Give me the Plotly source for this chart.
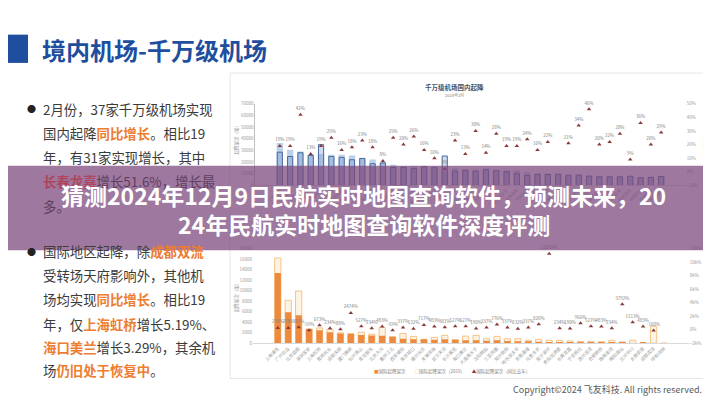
import plotly.graph_objects as go

W, H = 711, 400


def px(x):
    return x / W


def py(y):
    return 1 - y / H


# ---------------- data ----------------
top_cats = ["广州白云", "深圳宝安", "重庆江北", "昆明长水", "成都天府", "上海虹桥", "西安咸阳",
            "杭州萧山", "北京大兴", "北京首都", "成都双流", "长沙黄花", "海口美兰", "三亚凤凰",
            "贵阳龙洞堡", "南京禄口", "上海浦东", "武汉天河", "郑州新郑", "厦门高崎", "乌鲁木齐",
            "青岛胶东", "哈尔滨太平", "天津滨海", "济南遥墙", "沈阳桃仙", "南宁吴圩", "福州长乐",
            "大连周水子", "兰州中川", "长春龙嘉", "温州龙湾", "宁波栎社", "太原武宿", "呼和浩特",
            "合肥新桥", "珠海金湾", "揭阳潮汕"]
dom_2019 = [36400, 30500, 29100, 26300, 26900, 26300, 26300, 25700, 23700, 22300, 20100, 17800,
            16700, 16700, 15800, 15000, 13000, 14400, 13600, 13600, 14400, 13000, 13000, 12700,
            11000, 10500, 10500, 10200, 9500, 9300, 8500, 8000, 7800, 7600, 8000, 7000, 7300, 8200]
dom_2024 = [28500, 24800, 28000, 25700, 35000, 24800, 24000, 22000, 23000, 18600, 19200, 15300,
            15500, 14400, 16100, 15500, 25200, 12100, 13000, 12100, 13300, 12700, 11600, 9900,
            8500, 9300, 9300, 9500, 8200, 8700, 7800, 7300, 7300, 7300, 7800, 6500, 6800, 7600]
dom_growth = [19, 19, 42, 13, 19, 25, 16, 18, 23, 18, 8, 25, 20, 26, 16, 10, 2, 23, 13, 30, 14, 28,
              19, 19, 24, 16, 22, None, 21, 34, 46, 20, 22, 28, 9, 36, 20, 29]

intl_cats = ["上海浦东", "广州白云", "北京首都", "深圳宝安", "上海虹桥", "昆明长水", "成都天府",
             "厦门高崎", "杭州萧山", "青岛胶东", "北京大兴", "重庆江北", "西安咸阳", "南京禄口",
             "福州长乐", "天津滨海", "武汉天河", "长沙黄花", "海口美兰", "大连周水子", "沈阳桃仙",
             "三亚凤凰", "郑州新郑", "哈尔滨太平", "济南遥墙", "乌鲁木齐", "南宁吴圩", "贵阳龙洞堡",
             "长春龙嘉", "宁波栎社", "温州龙湾", "合肥新桥", "珠海金湾", "揭阳潮汕", "兰州中川",
             "太原武宿", "成都双流", "呼和浩特"]
intl_2024 = [13400, 5900, 5350, 2730, 2490, 2110, 1870, 1800, 1550, 1500, 1420, 1230, 860, 750,
             750, 670, 750, 670, 560, 560, 490, 560, 430, 370, 370, 300, 240, 240, 240, 240, 190,
             190, 190, 240, 60, 190, 0, 20]
intl_2019 = [16260, 8200, 9960, 2730, 2920, 2620, 1980, 1800, 2110, 1740, 3050, 1230, 1870, 1310,
             750, 1120, 1500, 670, 1360, 1500, 860, 1310, 860, 860, 560, 750, 560, 560, 430, 370,
             370, 300, 560, 240, 560, 60, 3240, 30]
intl_growth = [278, 278, 381, -59, 673, 234, 88, 2474, 527, 234, 483, -59, 337, 132, 717, 483, 381,
               527, 527, 190, 337, 776, 337, 132, 337, 820, 11259, 234, 190, 966, 527, 483, 234,
               3792, 1113, 483, -100, None]

# ---------------- figure ----------------
fig = go.Figure()

# top chart: domestic movements
fig.add_trace(go.Bar(x=top_cats, y=dom_2019, width=0.62, xaxis="x", yaxis="y",
                     marker=dict(color="#BCD0EA", line=dict(width=0)), showlegend=False))
fig.add_trace(go.Bar(x=top_cats, y=dom_2024, width=0.5, xaxis="x", yaxis="y",
                     marker=dict(color="rgba(120,155,205,0.35)", line=dict(color="#4A6A9E", width=1)),
                     showlegend=False))
fig.add_trace(go.Scatter(x=top_cats, y=dom_growth, xaxis="x", yaxis="y2", mode="markers+text",
                         text=[("%d%%" % v) if v is not None else "" for v in dom_growth],
                         textposition="top center", textfont=dict(size=4.5, color="#7F7F7F"),
                         marker=dict(symbol="triangle-up", size=4, color="#8B3A3A"),
                         cliponaxis=False, showlegend=False))

# bottom chart: international movements
fig.add_trace(go.Bar(x=intl_cats, y=intl_2019, width=0.6, xaxis="x2", yaxis="y3",
                     marker=dict(color="#FDF3E4", line=dict(color="#F5C48A", width=1)),
                     showlegend=False))
fig.add_trace(go.Bar(x=intl_cats, y=intl_2024, width=0.6, xaxis="x2", yaxis="y3",
                     marker=dict(color="#EE8A3E", line=dict(width=0)), showlegend=False))
fig.add_trace(go.Scatter(x=intl_cats, y=intl_growth, xaxis="x2", yaxis="y4", mode="markers+text",
                         text=[("%d%%" % v) if v is not None else "" for v in intl_growth],
                         textposition="top center", textfont=dict(size=4.5, color="#7F7F7F"),
                         marker=dict(symbol="triangle-up", size=4, color="#8B3A3A"),
                         cliponaxis=False, showlegend=False))

tick_small = dict(size=4.5, color="#9A9A9A")
fig.update_layout(
    width=W, height=H, margin=dict(l=0, r=0, t=0, b=0),
    paper_bgcolor="white", plot_bgcolor="rgba(0,0,0,0)",
    font=dict(family="Noto Sans CJK SC", color="#3B3B3B"),
    barmode="overlay", showlegend=False,
    xaxis=dict(domain=[px(247.3), px(677.7)], anchor="y", type="category", tickangle=-45,
               tickfont=dict(size=4, color="#A0A0A0"), showgrid=False, showline=True,
               linecolor="#D9D9D9", ticks=""),
    yaxis=dict(domain=[py(177), py(94.3)], range=[0, 70000], dtick=10000, tickformat="d",
               tickfont=tick_small, showgrid=False, zeroline=False, showline=True,
               linecolor="#BFBFBF", ticks=""),
    yaxis2=dict(overlaying="y", anchor="x", side="right", range=[-10, 50], dtick=10,
                ticksuffix="%", tickfont=tick_small, showgrid=False, zeroline=False, ticks=""),
    xaxis2=dict(domain=[px(245), px(680.8)], anchor="y3", type="category", tickangle=-45,
                tickfont=dict(size=4.5, color="#9A9A9A"), showgrid=False, showline=True,
                linecolor="#D9D9D9", ticks=""),
    yaxis3=dict(domain=[py(337.3), py(241.5)], anchor="x2", range=[0, 18000], dtick=2000,
                tickformat="d", tickfont=tick_small, showgrid=False, zeroline=False, ticks=""),
    yaxis4=dict(overlaying="y3", anchor="x2", side="right", range=[-2000, 12000], dtick=2000,
                ticksuffix="%", tickfont=tick_small, showgrid=False, zeroline=False, ticks=""),
)

shapes = [
    dict(type="rect", xref="paper", yref="paper", x0=px(222), x1=1.0, y0=py(373), y1=py(63),
         line=dict(color="#E6E6E6", width=1), fillcolor="white", layer="below"),
    dict(type="rect", xref="paper", yref="paper", x0=0, x1=px(20), y0=py(52.7), y1=py(24),
         line=dict(width=0), fillcolor="#1F4E9E", layer="above"),
    dict(type="rect", xref="paper", yref="paper", x0=0, x1=1, y0=py(243), y1=py(157),
         line=dict(width=0), fillcolor="rgba(125,75,125,0.75)", layer="above"),
]
fig.update_layout(shapes=shapes)

ann = []


def add_text(x, y, text, size, color="#3B3B3B", xanchor="left", angle=0, family=None):
    d = dict(x=px(x), y=py(y), xref="paper", yref="paper", text=text, showarrow=False,
             xanchor=xanchor, yanchor="middle", textangle=angle,
             font=dict(size=size, color=color))
    if family:
        d["font"]["family"] = family
    ann.append(d)


# slide title
add_text(32, 39.5, "<b>境内机场-千万级机场</b>", 24, color="#1F4E9E")

HL = "#ED7D31"


def hl(s, c=HL):
    return "<b><span style='color:%s'>%s</span></b>" % (c, s)


FS = 13.4
# left bullets
add_text(17, 99.3, "●", 9, color="#222222")
lines1 = [
    (99.3, "2月份，37家千万级机场实现"),
    (124.0, "国内起降" + hl("同比增长") + "。相比19"),
    (148.5, "年，有31家实现增长，其中"),
]
for y, t in lines1:
    add_text(33, y, t, FS)
# lines under the band (seen through it)
add_text(33, 173.0, hl("长春龙嘉", "#B0445C") + "增长51.6%，增长最", FS, color="#5E3F5E")
add_text(33, 197.5, "多。", FS, color="#5E3F5E")

add_text(17, 244, "●", 9, color="#222222")
lines2 = [
    (244.0, "国际地区起降，除" + hl("成都双流")),
    (268.3, "受转场天府影响外，其他机"),
    (292.7, "场均实现" + hl("同比增长") + "。相比19"),
    (317.3, "年，仅" + hl("上海虹桥") + "增长5.19%、"),
    (341.0, hl("海口美兰") + "增长3.29%，其余机"),
    (364.5, "场" + hl("仍旧处于恢复中") + "。"),
]
for y, t in lines2:
    add_text(33, y, t, FS)

# chart titles and axis titles
add_text(446, 76.7, "<b>千万级机场国内起降</b>", 6.5, color="#44546A", xanchor="center")
add_text(446, 85.7, "2024年2月", 4, color="#7F7F7F", xanchor="center")
add_text(228.5, 130, "起降架次（架）", 4.5, color="#9A9A9A", xanchor="center", angle=-90)
add_text(697, 135, "同比增长率", 4.5, color="#9A9A9A", xanchor="center", angle=90)
add_text(228.5, 290, "起降架次（架）", 4.5, color="#9A9A9A", xanchor="center", angle=-90)
add_text(700, 295, "同比增长率", 4.5, color="#9A9A9A", xanchor="center", angle=90)

# bottom legend
legend_txt = ("<span style='color:#EE8A3E'>■</span>国际起降架次　　"
              "<span style='color:#F5C48A'>□</span>国际起降架次（2019）　　"
              "<span style='color:#8B3A3A'>▲</span>国际起降架次（同比去年）")
add_text(444, 366, legend_txt, 4.5, color="#7F7F7F", xanchor="center")

# overlay headline
add_text(355.5, 186.5, "<b>猜测2024年12月9日民航实时地图查询软件，预测未来，20</b>", 23,
         color="#FFFFFF", xanchor="center")
add_text(355.5, 216.5, "<b>24年民航实时地图查询软件深度评测</b>", 23, color="#FFFFFF",
         xanchor="center")

# copyright
add_text(503, 384.5, "Copyright©2024 飞友科技. All rights reserved.", 9, color="#595959")

fig.update_layout(annotations=ann)
fig.write_html("out.html")
